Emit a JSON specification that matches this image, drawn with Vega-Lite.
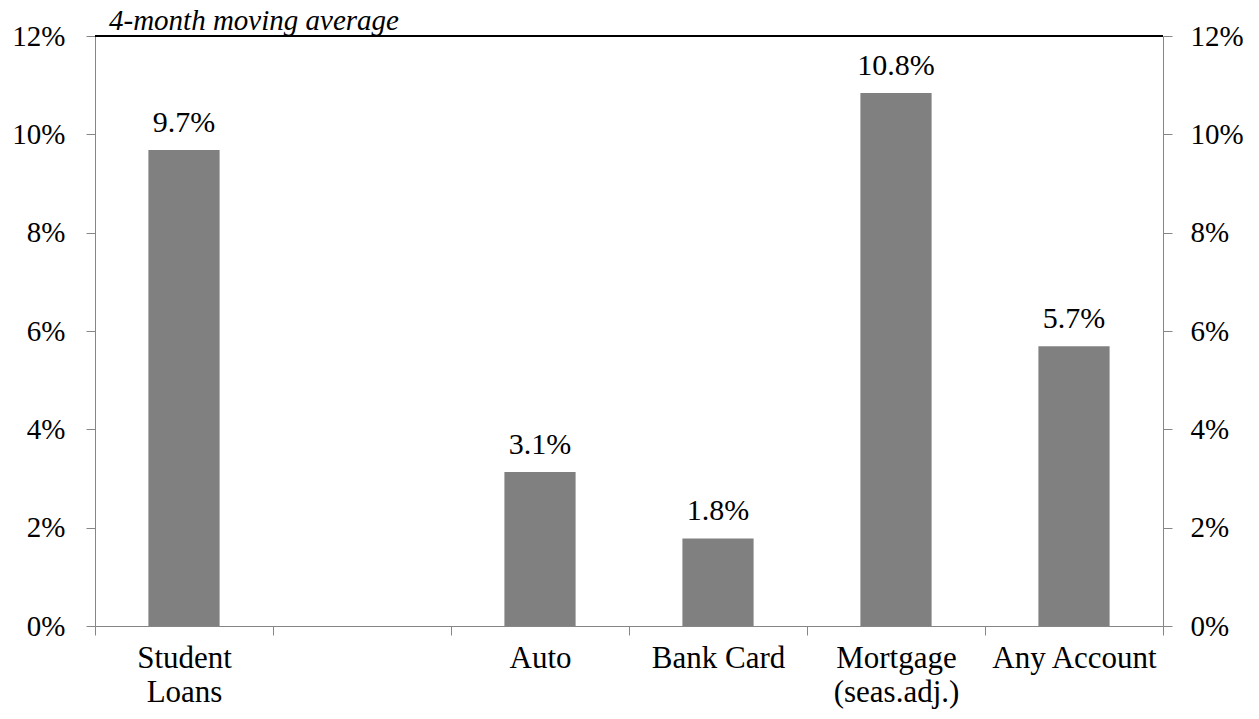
{
  "$schema": "https://vega.github.io/schema/vega-lite/v6.json",
  "autosize": {"type": "none"},
  "width": 1068,
  "height": 590,
  "padding": {"left": 95, "top": 36, "right": 96, "bottom": 93},
  "background": "white",
  "config": {"view": {"stroke": null}},
  "title": {
    "text": "4-month moving average",
    "anchor": "start",
    "frame": "group",
    "font": "Liberation Serif",
    "fontStyle": "italic",
    "fontWeight": "normal",
    "fontSize": 29,
    "color": "black",
    "baseline": "alphabetic",
    "dx": 14,
    "dy": 44,
    "offset": 7
  },
  "data": {
    "values": [
      {"cat": "Student Loans", "v": 0.0968},
      {"cat": "Auto", "v": 0.0313},
      {"cat": "Bank Card", "v": 0.0178},
      {"cat": "Mortgage (seas.adj.)", "v": 0.1084},
      {"cat": "Any Account", "v": 0.0569}
    ]
  },
  "layer": [
    {
      "mark": {"type": "bar", "color": "#808080", "width": {"band": 0.4}},
      "encoding": {
        "x": {
          "field": "cat",
          "type": "nominal",
          "sort": null,
          "scale": {
            "domain": ["Student Loans", " ", "Auto", "Bank Card", "Mortgage (seas.adj.)", "Any Account"],
            "paddingInner": 0,
            "paddingOuter": 0
          },
          "axis": {
            "title": null,
            "orient": "bottom",
            "tickBand": "extent",
            "labelAngle": 0,
            "domainColor": "#868686",
            "tickColor": "#868686",
            "tickSize": 9,
            "labelFont": "Liberation Serif",
            "labelFontSize": 31,
            "labelColor": "black",
            "labelPadding": 8,
            "labelBaseline": "top",
            "labelLineHeight": 34,
            "labelExpr": "datum.value == 'Student Loans' ? ['Student','Loans'] : datum.value == 'Mortgage (seas.adj.)' ? ['Mortgage','(seas.adj.)'] : datum.value"
          }
        },
        "y": {
          "field": "v",
          "type": "quantitative",
          "scale": {"domain": [0, 0.12], "nice": false},
          "axis": {
            "title": null,
            "orient": "left",
            "values": [0, 0.02, 0.04, 0.06, 0.08, 0.1, 0.12],
            "format": ".0%",
            "grid": false,
            "domainColor": "#868686",
            "tickColor": "#868686",
            "tickSize": 9,
            "labelFont": "Liberation Serif",
            "labelFontSize": 29,
            "labelColor": "black",
            "labelPadding": 21
          }
        }
      }
    },
    {
      "mark": {"type": "text", "font": "Liberation Serif", "fontSize": 30, "color": "black", "baseline": "alphabetic", "dy": -18},
      "encoding": {
        "x": {"field": "cat", "type": "nominal", "sort": null},
        "y": {"field": "v", "type": "quantitative", "scale": {"domain": [0, 0.12], "nice": false}, "axis": null},
        "text": {"field": "v", "type": "quantitative", "format": ".1%"}
      }
    },
    {
      "mark": {"type": "rule", "color": "black", "strokeWidth": 1.5},
      "encoding": {
        "y": {
          "datum": 0.12,
          "type": "quantitative",
          "scale": {"domain": [0, 0.12], "nice": false},
          "axis": {
            "title": null,
            "orient": "right",
            "values": [0, 0.02, 0.04, 0.06, 0.08, 0.1, 0.12],
            "format": ".0%",
            "grid": false,
            "domainColor": "#868686",
            "tickColor": "#868686",
            "tickSize": 9,
            "labelFont": "Liberation Serif",
            "labelFontSize": 29,
            "labelColor": "black",
            "labelPadding": 18
          }
        }
      }
    }
  ],
  "resolve": {"scale": {"y": "independent"}}
}
